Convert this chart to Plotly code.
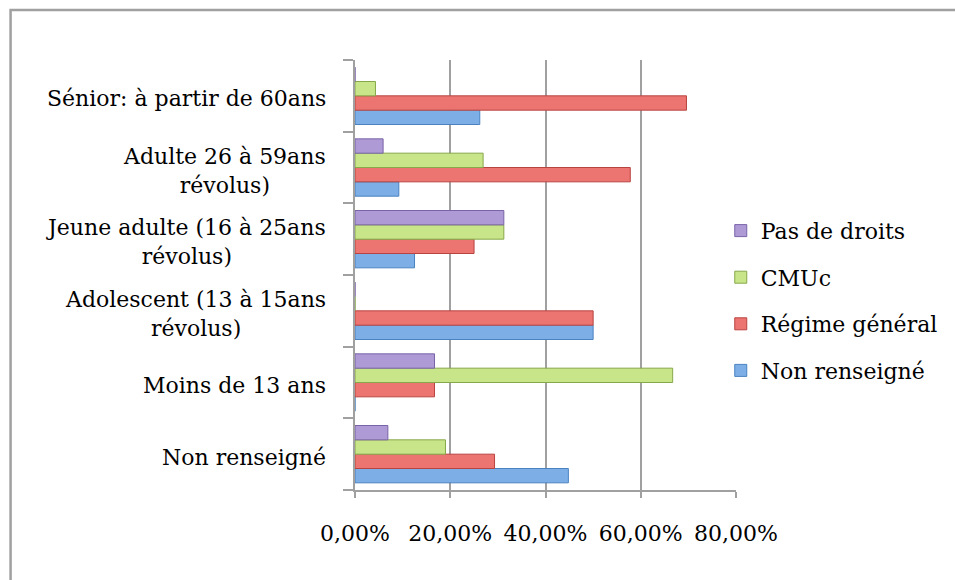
import plotly.graph_objects as go

categories = [
    "Non renseigné",
    "Moins de 13 ans",
    "Adolescent (13 à 15ans<br>révolus)",
    "Jeune adulte (16 à 25ans<br>révolus)",
    "Adulte 26 à 59ans<br>révolus)",
    "Sénior: à partir de 60ans",
]

non_renseigne = [0.448, 0.0, 0.50, 0.125, 0.092, 0.262]
regime_general = [0.293, 0.167, 0.50, 0.25, 0.578, 0.696]
cmuc = [0.19, 0.667, 0.0, 0.3125, 0.269, 0.043]
pas_de_droits = [0.069, 0.167, 0.0, 0.3125, 0.059, 0.0]

x_ticks = [0, 0.2, 0.4, 0.6, 0.8]

series = [
    ("Non renseigné", non_renseigne, "#7DAFE6", "#4A82C0", 4),
    ("Régime général", regime_general, "#EC7571", "#B84440", 3),
    ("CMUc", cmuc, "#C9E58A", "#86A84A", 2),
    ("Pas de droits", pas_de_droits, "#AE9BD6", "#7A63A8", 1),
]

FONT = "DejaVu Serif"
FS = 22

fig = go.Figure()
for name, vals, col, edge, rank in series:
    fig.add_trace(go.Bar(
        y=categories, x=vals, name=name, orientation="h",
        marker=dict(color=col, line=dict(color=edge, width=1)),
        legendgroup=name, legendrank=rank,
    ))

for cat in categories:
    fig.add_annotation(
        x=-0.07, xref="paper", y=cat, yref="y", yshift=-3,
        text=cat, showarrow=False, xanchor="right", yanchor="middle",
        align="center", font=dict(family=FONT, size=FS, color="#000000"),
    )

fig.add_shape(type="rect", xref="paper", yref="paper",
              x0=-0.904, x1=1.6, y0=-0.25, y1=1.116,
              line=dict(color="#A0A0A0", width=2.5), fillcolor="rgba(0,0,0,0)",
              layer="below")

fig.update_layout(
    width=955, height=580,
    margin=dict(l=355, r=215, t=60, b=90),
    paper_bgcolor="white", plot_bgcolor="white",
    barmode="group", bargap=0.2, bargroupgap=0.0,
    separators=", ",
    font=dict(family=FONT, size=FS, color="#000000"),
    showlegend=True,
    legend=dict(
        x=0.96, xanchor="left", y=0.44, yanchor="middle",
        traceorder="grouped", tracegroupgap=15,
        font=dict(family=FONT, size=FS, color="#000000"),
        itemwidth=30, bgcolor="rgba(0,0,0,0)",
    ),
    xaxis=dict(
        range=[0, 0.8], tickvals=x_ticks, tickformat=".2%",
        showgrid=True, gridcolor="#A0A0A0", gridwidth=2,
        showline=True, linecolor="#A0A0A0", linewidth=2,
        ticks="outside", ticklen=6, tickcolor="#A0A0A0", tickwidth=2,
        ticklabelstandoff=17, zeroline=False,
        tickfont=dict(family=FONT, size=FS),
    ),
    yaxis=dict(
        type="category", showticklabels=False,
        showline=True, linecolor="#A0A0A0", linewidth=2,
        ticks="outside", ticklen=10, tickcolor="#A0A0A0", tickwidth=2,
        tickson="boundaries", showgrid=False,
    ),
)

fig.write_html("out.html", config={"displayModeBar": False},
               post_script="document.body.style.margin='0';")
